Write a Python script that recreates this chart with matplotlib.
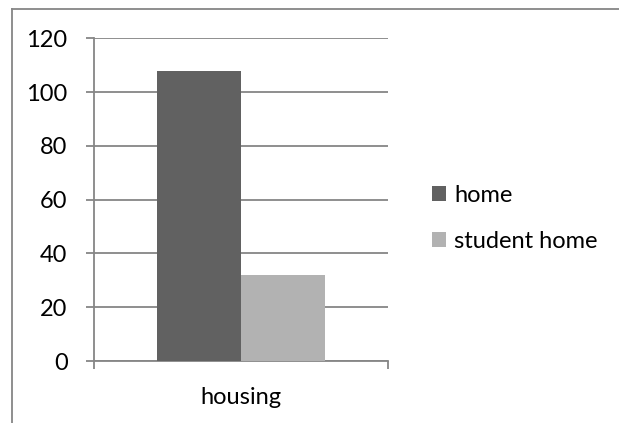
import matplotlib
matplotlib.use("Agg")
import matplotlib.pyplot as plt
from matplotlib.patches import Patch
from matplotlib.lines import Line2D

categories = ["housing"]
series_names = ["home", "student home"]
home_values = [108]
student_home_values = [32]
y_ticks = [0, 20, 40, 60, 80, 100, 120]

colors = ["#616161", "#B2B2B2"]
grid_color = "#868686"
FS = 17

W, H = 619, 423
plt.rcParams['font.family'] = ['Lato', 'DejaVu Sans']
fig = plt.figure(figsize=(W / 100, H / 100), dpi=100)
fig.patch.set_facecolor("white")

left, right, top, bottom = 94.0, 388.3, 38.3, 361.0
ax = fig.add_axes([left / W, 1 - bottom / H, (right - left) / W, (bottom - top) / H])

gap = 1.5
bw = 1 / (2 + gap)
series = [home_values, student_home_values]
for i, (name, vals) in enumerate(zip(series_names, series)):
    xs = [c + (i - 0.5) * bw for c in range(len(categories))]
    ax.bar(xs, vals, width=bw, color=colors[i], label=name, zorder=3)

ax.set_xlim(-0.5, len(categories) - 0.5)
ax.set_ylim(0, 120)
ax.set_yticks(y_ticks)
ax.set_yticklabels([str(t) for t in y_ticks], fontsize=FS, color="black")
ax.yaxis.grid(True, color=grid_color, linewidth=1.3, zorder=0)
ax.set_axisbelow(True)

ax.set_xticks([-0.5 + k for k in range(len(categories) + 1)])
ax.set_xticklabels([""] * (len(categories) + 1))
ax.set_xticks(list(range(len(categories))), minor=True)
ax.set_xticklabels(categories, minor=True, fontsize=FS)
ax.tick_params(axis="x", which="minor", length=0, pad=19)
ax.tick_params(axis="x", which="major", length=6, width=1.3, color=grid_color, direction="out")
ax.tick_params(axis="y", length=6, width=1.3, color=grid_color, pad=13)

for s in ["top", "right"]:
    ax.spines[s].set_visible(False)
for s in ["left", "bottom"]:
    ax.spines[s].set_color(grid_color)
    ax.spines[s].set_linewidth(1.3)

handles = [Patch(facecolor=colors[i], edgecolor="none") for i in range(2)]
fig.legend(handles, series_names, loc="center left",
           bbox_to_anchor=(432 / W, 1 - 218.5 / H), frameon=False,
           fontsize=FS, handlelength=0.6, handleheight=0.6,
           handletextpad=0.34, labelspacing=1.08, borderpad=0, borderaxespad=0)

# chart border
fig.add_artist(Line2D([12 / W, 1.01], [1 - 9.5 / H, 1 - 9.5 / H], transform=fig.transFigure,
                      color=grid_color, linewidth=1.3))
fig.add_artist(Line2D([12 / W, 12 / W], [1 - 9.5 / H, -0.01], transform=fig.transFigure,
                      color=grid_color, linewidth=1.3))

fig.savefig("out.png", dpi=100, facecolor="white")
